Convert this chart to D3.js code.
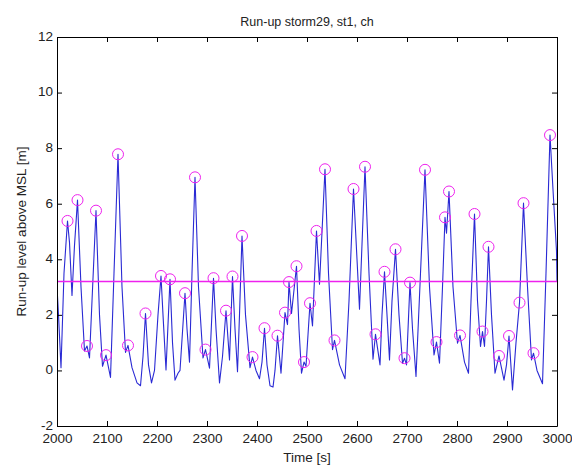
<!DOCTYPE html>
<html>
<head>
<meta charset="utf-8">
<script src="https://cdn.jsdelivr.net/npm/d3@7/dist/d3.min.js"></script>
<style>
  html, body { margin: 0; padding: 0; background: #ffffff; }
  svg { display: block; }
  text { font-family: Arial, "Liberation Sans", Helvetica, sans-serif; }
</style>
</head>
<body>
<svg id="chart" width="572" height="466"></svg>
<script>
// ---- data ----
const seriesTime = [
  2000, 2003, 2008, 2014, 2021, 2025, 2030, 2035, 2041, 2048,
  2055, 2060, 2065, 2070, 2078, 2085, 2091, 2098, 2107, 2114,
  2122, 2130, 2137, 2142, 2150, 2160, 2167, 2172, 2177, 2183,
  2189, 2195, 2202, 2208, 2212, 2218, 2226, 2231, 2236, 2242,
  2246, 2256, 2260, 2265, 2270, 2276, 2283, 2292, 2297, 2305,
  2313, 2318, 2325, 2331, 2338, 2345, 2351, 2356, 2361, 2365,
  2370, 2377, 2386, 2391, 2398, 2405, 2410, 2415, 2420, 2426,
  2432, 2436, 2441, 2448, 2456, 2461, 2464, 2469, 2479, 2484,
  2489, 2494, 2498, 2506, 2511, 2519, 2525, 2536, 2543, 2551,
  2555, 2565, 2576, 2584, 2593, 2600, 2605, 2616, 2624, 2632,
  2637, 2646, 2650, 2655, 2660, 2665, 2670, 2677, 2684, 2691,
  2695, 2699, 2706, 2711, 2718, 2727, 2736, 2745, 2754, 2759,
  2765, 2771, 2776, 2779, 2784, 2792, 2801, 2806, 2815, 2823,
  2828, 2835, 2841, 2847, 2851, 2855, 2859, 2863, 2869, 2876,
  2884, 2894, 2899, 2904, 2911, 2918, 2925, 2933, 2941, 2949,
  2953, 2960, 2971, 2978, 2986, 2992, 2999, 3000
];
const seriesLevel = [
  3.0, 2.0, 0.1, 3.5, 5.38, 4.6, 2.7, 4.5, 6.13, 3.0,
  0.7, 0.88, 0.45, 2.5, 5.75, 2.0, 0.15, 0.55, -0.25, 3.5,
  7.78, 3.0, 0.65, 0.9, 0.1, -0.45, -0.55, 0.5, 2.05, 0.2,
  -0.45, 0.0, 2.0, 3.4, 2.0, 0.02, 3.28, 1.0, -0.35, -0.1,
  0.0, 2.78, 1.5, 0.3, 3.5, 6.95, 3.0, 0.45, 0.75, 0.08,
  3.32, 1.5, -0.45, 0.5, 2.15, 0.38, 3.38, 1.5, -0.05, 2.0,
  4.84, 2.0, 0.1, 0.48, 0.0, -0.3, 0.3, 1.52, 0.2, -0.55,
  -0.6, 0.0, 1.25, -0.1, 2.08, 1.65, 3.18, 2.05, 3.75, 1.5,
  -0.1, 0.3, 0.15, 2.42, 1.6, 5.02, 3.1, 7.24, 3.5, 0.75,
  1.08, 0.2, -0.3, 2.5, 6.53, 4.0, 2.2, 7.33, 3.5, 0.4,
  1.3, 0.2, 2.0, 3.55, 2.0, 0.38, 2.5, 4.36, 2.0, 0.26,
  0.44, 0.2, 3.16, 1.5, -0.22, 3.5, 7.22, 3.0, 0.56, 1.02,
  0.26, 3.0, 5.51, 4.94, 6.44, 3.0, 0.98, 1.26, 0.3, -0.1,
  2.5, 5.63, 2.5, 0.86, 1.4, 0.86, 2.5, 4.45, 2.0, -0.1,
  0.52, -0.35, 0.2, 1.24, -0.7, 1.0, 2.44, 6.02, 3.0, 0.38,
  0.62, 0.0, -0.48, 3.5, 8.47, 6.5, 4.3, 3.2
];
const peakTime = [
  2021, 2041, 2060, 2078, 2098, 2122, 2142, 2177, 2208, 2226,
  2256, 2276, 2297, 2313, 2338, 2351, 2370, 2391, 2415, 2441,
  2456, 2464, 2479, 2494, 2506, 2519, 2536, 2555, 2593, 2616,
  2637, 2655, 2677, 2695, 2706, 2736, 2759, 2776, 2784, 2806,
  2835, 2851, 2863, 2884, 2904, 2925, 2933, 2953, 2986
];
const peakLevel = [
  5.38, 6.13, 0.88, 5.75, 0.55, 7.78, 0.9, 2.05, 3.4, 3.28,
  2.78, 6.95, 0.75, 3.32, 2.15, 3.38, 4.84, 0.48, 1.52, 1.25,
  2.08, 3.18, 3.75, 0.3, 2.42, 5.02, 7.24, 1.08, 6.53, 7.33,
  1.3, 3.55, 4.36, 0.44, 3.16, 7.22, 1.02, 5.51, 6.44, 1.26,
  5.63, 1.4, 4.45, 0.52, 1.24, 2.44, 6.02, 0.62, 8.47
];
const thresholdLevel = [3.2];
const xTicks = [2000, 2100, 2200, 2300, 2400, 2500, 2600, 2700, 2800, 2900, 3000];
const yTicks = [-2, 0, 2, 4, 6, 8, 10, 12];
const titleText = "Run-up storm29, st1, ch";
const xLabelText = "Time [s]";
const yLabelText = "Run-up level above MSL [m]";

// ---- drawing ----
const svg = d3.select("#chart");
const L = 57, R = 557, T = 37, B = 426;
const x = d3.scaleLinear().domain([2000, 3000]).range([L, R]);
const y = d3.scaleLinear().domain([-2, 12]).range([B, T]);
const fontSize = 13.5;

svg.append("rect").attr("x", 0).attr("y", 0).attr("width", 572).attr("height", 466).attr("fill", "#fff");

const clip = svg.append("defs").append("clipPath").attr("id", "plotclip");
clip.append("rect").attr("x", L).attr("y", T).attr("width", R - L).attr("height", B - T);

const series = seriesTime.map((t, i) => ({ t, v: seriesLevel[i] }));
const peaks = peakTime.map((t, i) => ({ t, v: peakLevel[i] }));

const plot = svg.append("g").attr("clip-path", "url(#plotclip)");

plot.append("path")
  .datum(series)
  .attr("fill", "none")
  .attr("stroke", "#2a2ad4")
  .attr("stroke-width", 1.1)
  .attr("stroke-linejoin", "round")
  .attr("d", d3.line().x(d => x(d.t)).y(d => y(d.v)));

plot.selectAll("line.thr")
  .data(thresholdLevel)
  .enter().append("line")
  .attr("class", "thr")
  .attr("x1", x(2000)).attr("x2", x(3000))
  .attr("y1", d => y(d)).attr("y2", d => y(d))
  .attr("stroke", "#ee22ee")
  .attr("stroke-width", 1.3);

svg.append("g").selectAll("circle")
  .data(peaks)
  .enter().append("circle")
  .attr("cx", d => x(d.t))
  .attr("cy", d => y(d.v))
  .attr("r", 5.5)
  .attr("fill", "none")
  .attr("stroke", "#ee22ee")
  .attr("stroke-width", 1);

function styleAxis(g) {
  g.selectAll("path.domain").attr("stroke", "#000").attr("stroke-width", 1);
  g.selectAll(".tick line").attr("stroke", "#000");
  g.selectAll(".tick text").attr("fill", "#222").style("font-size", fontSize + "px")
    .style("font-family", "Arial, 'Liberation Sans', Helvetica, sans-serif");
}

const fmt = d => String(d);

svg.append("g").attr("transform", `translate(0,${B})`)
  .call(d3.axisBottom(x).tickValues(xTicks).tickFormat(fmt).tickSizeInner(-5).tickSizeOuter(0).tickPadding(7))
  .call(styleAxis);
svg.append("g").attr("transform", `translate(0,${T})`)
  .call(d3.axisTop(x).tickValues(xTicks).tickFormat("").tickSizeInner(-5).tickSizeOuter(0))
  .call(styleAxis);
const yAxisG = svg.append("g").attr("transform", `translate(${L},0)`)
  .call(d3.axisLeft(y).tickValues(yTicks).tickFormat(fmt).tickSizeInner(-5).tickSizeOuter(0).tickPadding(4))
  .call(styleAxis);
yAxisG.selectAll(".tick text").attr("dy", "0.25em");
svg.append("g").attr("transform", `translate(${R},0)`)
  .call(d3.axisRight(y).tickValues(yTicks).tickFormat("").tickSizeInner(-5).tickSizeOuter(0))
  .call(styleAxis);

svg.append("text")
  .attr("x", (L + R) / 2).attr("y", 26)
  .attr("text-anchor", "middle")
  .style("font-size", (fontSize - 1) + "px").attr("fill", "#222")
  .text(titleText);

svg.append("text")
  .attr("x", (L + R) / 2).attr("y", 462)
  .attr("text-anchor", "middle")
  .style("font-size", fontSize + "px").attr("fill", "#222")
  .text(xLabelText);

svg.append("text")
  .attr("transform", `translate(26,${(T + B) / 2}) rotate(-90)`)
  .attr("text-anchor", "middle")
  .style("font-size", fontSize + "px").attr("fill", "#222")
  .text(yLabelText);
</script>
</body>
</html>
